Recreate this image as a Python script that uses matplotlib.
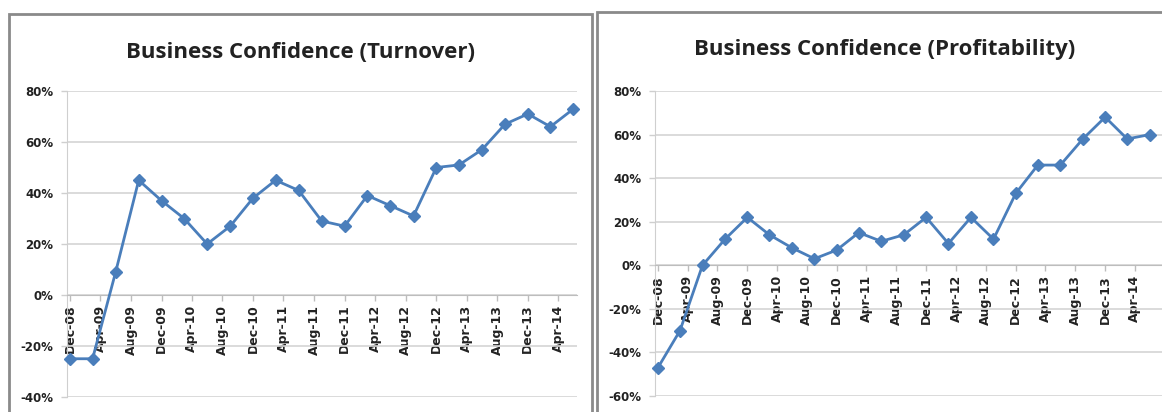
import matplotlib
matplotlib.use("Agg")
import matplotlib.pyplot as plt
from matplotlib.patches import Rectangle
import pandas as pd

# quarterly survey points, Dec-08 .. Jun-14
dates = pd.date_range("2008-12-01", periods=23, freq="3MS")

turnover = [-25, -25, 9, 45, 37, 30, 20, 27, 38, 45, 41, 29, 27, 39, 35, 31,
            50, 51, 57, 67, 71, 66, 73]
profitability = [-47, -30, 0, 12, 22, 14, 8, 3, 7, 15, 11, 14, 22, 10, 22, 12,
                 33, 46, 46, 58, 68, 58, 60]

tick_dates = pd.date_range("2008-12-01", periods=17, freq="4MS")
tick_labels = ["Dec-08", "Apr-09", "Aug-09", "Dec-09", "Apr-10", "Aug-10",
               "Dec-10", "Apr-11", "Aug-11", "Dec-11", "Apr-12", "Aug-12",
               "Dec-12", "Apr-13", "Aug-13", "Dec-13", "Apr-14"]

titles = ["Business Confidence (Turnover)", "Business Confidence (Profitability)"]
yticks_left = [-40, -20, 0, 20, 40, 60, 80]
yticks_right = [-60, -40, -20, 0, 20, 40, 60, 80]

W, H = 1162, 412
fig = plt.figure(figsize=(W / 100, H / 100), dpi=100)
fig.patch.set_facecolor("white")

LINE = "#4a7ebb"
GRID = "#d4d4d4"
TXT = "#222222"


def px(x0, y0, x1, y1):
    # pixel box -> figure fraction [left, bottom, width, height]
    return [x0 / W, 1 - y1 / H, (x1 - x0) / W, (y1 - y0) / H]


def draw(ax, vals, yticks, xpad_right):
    # move the category axis to 0 first: set_position resets the ticks
    for s in ["top", "right"]:
        ax.spines[s].set_visible(False)
    ax.spines["bottom"].set_position(("data", 0))
    ax.spines["bottom"].set_color("#bdbdbd")
    ax.spines["left"].set_color("#cfcfcf")

    ax.plot(dates, vals, color=LINE, lw=2, marker="D", ms=6.5,
            mfc=LINE, mec=LINE, zorder=3, clip_on=False)
    ax.set_ylim(yticks[0], yticks[-1])
    ax.set_yticks(yticks)
    ax.set_yticklabels(["%d%%" % v for v in yticks], fontsize=8.5,
                       fontweight="bold", color=TXT)
    ax.set_xlim(dates[0] - pd.Timedelta(days=12),
                dates[-1] + pd.Timedelta(days=xpad_right))
    ax.set_xticks(tick_dates)
    ax.set_xticklabels(tick_labels, rotation=90, fontsize=9,
                       fontweight="bold", color=TXT, va="top", ha="center")
    ax.grid(axis="y", color=GRID, lw=1.2)
    ax.set_axisbelow(True)
    ax.tick_params(axis="x", length=4, width=1, color="#bdbdbd", pad=3)
    ax.tick_params(axis="y", length=4, width=1, color="#cfcfcf", pad=6)


ax1 = fig.add_axes(px(67, 91, 577, 397))
draw(ax1, turnover, yticks_left, 14)

ax2 = fig.add_axes(px(655, 91, 1162, 396))
draw(ax2, profitability, yticks_right, 50)

fig.text(300 / W, 1 - 52 / H, titles[0], ha="center", va="center",
         fontsize=16, fontweight="bold", family="Open Sans", color=TXT)
fig.text(885 / W, 1 - 50 / H, titles[1], ha="center", va="center",
         fontsize=16, fontweight="bold", family="Open Sans", color=TXT)

# chart frames
fig.add_artist(Rectangle((9 / W, -0.1), (592 - 9) / W, 1.1 - 14 / H,
                         transform=fig.transFigure, fill=False,
                         ec="#8a8a8a", lw=2))
fig.add_artist(Rectangle((597 / W, -0.1), 0.6, 1.1 - 12 / H,
                         transform=fig.transFigure, fill=False,
                         ec="#8a8a8a", lw=2))

fig.savefig("out.png", dpi=100)
